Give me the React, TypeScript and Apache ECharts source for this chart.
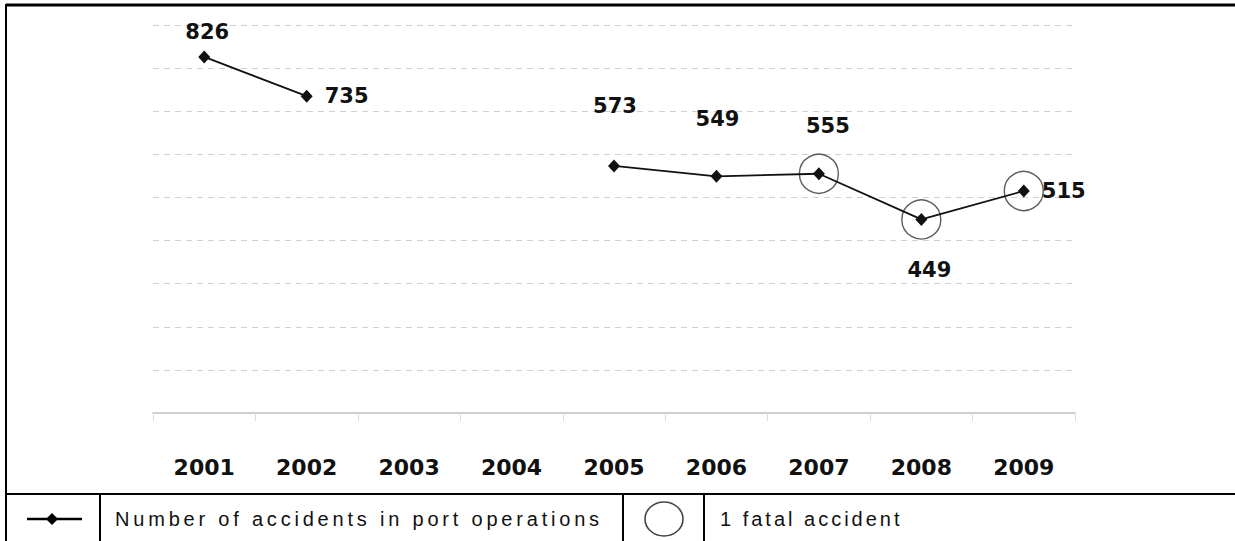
import React, { useEffect, useRef } from "react";
import * as echarts from "echarts";

const years = ["2001", "2002", "2003", "2004", "2005", "2006", "2007", "2008", "2009"];
const accidents: (number | null)[] = [826, 735, null, null, 573, 549, 555, 449, 515];
const fatalAccidents = [0, 0, 0, 0, 0, 0, 1, 1, 1];
const yTicks = [0, 100, 200, 300, 400, 500, 600, 700, 800, 900];
const seriesName = "Number of accidents in port operations";
const fatalName = "1 fatal accident";

// label placement (styling, relative to each point)
const labelOffsets: [number, number][] = [
  [3, -25], [40, 0], [0, 0], [0, 0], [1, -60], [1, -57], [9, -48], [8, 51], [40, 0],
];

export default function App() {
  const ref = useRef<HTMLDivElement>(null);
  useEffect(() => {
    if (!ref.current) return;
    const chart = echarts.init(ref.current, undefined, { renderer: "svg" });
    const labelFont = {
      fontFamily: "DejaVu Sans",
      fontWeight: "bold" as const,
      fontSize: 21,
      color: "#111",
    };
    const lineData = accidents.map((v, i) => ({
      value: v,
      label: {
        show: v !== null,
        position: "inside" as const,
        offset: labelOffsets[i],
        ...labelFont,
      },
    }));
    const fatalData = fatalAccidents
      .map((f, i) => (f > 0 ? [years[i], accidents[i]] : null))
      .filter((d) => d !== null);

    const legendY = 519;
    chart.setOption({
      animation: false,
      backgroundColor: "#fff",
      grid: { left: 153, right: 160, top: 25, bottom: 128, containLabel: false },
      xAxis: {
        type: "category",
        data: years,
        boundaryGap: true,
        axisLine: { show: true, lineStyle: { color: "#cfcfcf", width: 2 } },
        axisTick: { show: true, length: 8, lineStyle: { color: "#dcdcdc", width: 1 } },
        axisLabel: {
          margin: 43,
          fontFamily: "DejaVu Sans",
          fontWeight: "bold",
          fontSize: 22,
          color: "#111",
        },
        splitLine: { show: false },
      },
      yAxis: {
        type: "value",
        min: yTicks[0],
        max: yTicks[yTicks.length - 1],
        interval: 100,
        axisLine: { show: false },
        axisTick: { show: false },
        axisLabel: { show: false },
        splitLine: {
          show: true,
          lineStyle: { color: "#d0d0d0", type: [6, 5], width: 1 },
        },
      },
      series: [
        {
          name: seriesName,
          type: "line",
          data: lineData,
          connectNulls: false,
          symbol: "diamond",
          symbolSize: [12, 13],
          itemStyle: { color: "#111" },
          lineStyle: { color: "#111", width: 1.8 },
          z: 3,
        },
        {
          name: fatalName,
          type: "scatter",
          data: fatalData,
          symbol: "circle",
          symbolSize: 39,
          silent: true,
          itemStyle: { color: "rgba(0,0,0,0)", borderColor: "#333", borderWidth: 1.4 },
          z: 2,
        },
      ],
      graphic: [
        { type: "line", shape: { x1: 6, y1: 5, x2: 1235, y2: 5 }, style: { stroke: "#000", lineWidth: 3 } },
        { type: "line", shape: { x1: 6, y1: 4, x2: 6, y2: 541 }, style: { stroke: "#000", lineWidth: 2 } },
        { type: "line", shape: { x1: 6, y1: 494, x2: 1235, y2: 494 }, style: { stroke: "#000", lineWidth: 2 } },
        { type: "line", shape: { x1: 100, y1: 494, x2: 100, y2: 541 }, style: { stroke: "#000", lineWidth: 2 } },
        { type: "line", shape: { x1: 623, y1: 494, x2: 623, y2: 541 }, style: { stroke: "#000", lineWidth: 2 } },
        { type: "line", shape: { x1: 704, y1: 494, x2: 704, y2: 541 }, style: { stroke: "#000", lineWidth: 2 } },
        { type: "line", shape: { x1: 27, y1: legendY, x2: 82, y2: legendY }, style: { stroke: "#000", lineWidth: 2.5 } },
        {
          type: "polygon",
          shape: { points: [[46, legendY], [52, legendY - 6], [58, legendY], [52, legendY + 6]] },
          style: { fill: "#000" },
        },
        {
          type: "text",
          x: 115,
          y: legendY,
          style: {
            text: seriesName,
            fontFamily: "Liberation Sans",
            fontSize: 20,
            fill: "#111",
            verticalAlign: "middle",
            align: "left",
          },
        },
        {
          type: "ellipse",
          shape: { cx: 664, cy: legendY, rx: 19, ry: 17 },
          style: { fill: "none", stroke: "#444", lineWidth: 1.6 },
        },
        {
          type: "text",
          x: 720,
          y: legendY,
          style: {
            text: fatalName,
            fontFamily: "Liberation Sans",
            fontSize: 20,
            fill: "#111",
            verticalAlign: "middle",
            align: "left",
          },
        },
      ],
    });

    const dom = chart.getDom();
    dom.querySelectorAll("text").forEach((t) => {
      const s = t.textContent || "";
      if (s === seriesName) t.setAttribute("letter-spacing", "3.8");
      if (s === fatalName) t.setAttribute("letter-spacing", "3.0");
    });

    return () => chart.dispose();
  }, []);

  return (
    <div
      ref={ref}
      style={{ position: "fixed", left: 0, top: 0, width: 1235, height: 541, background: "#fff" }}
    />
  );
}
